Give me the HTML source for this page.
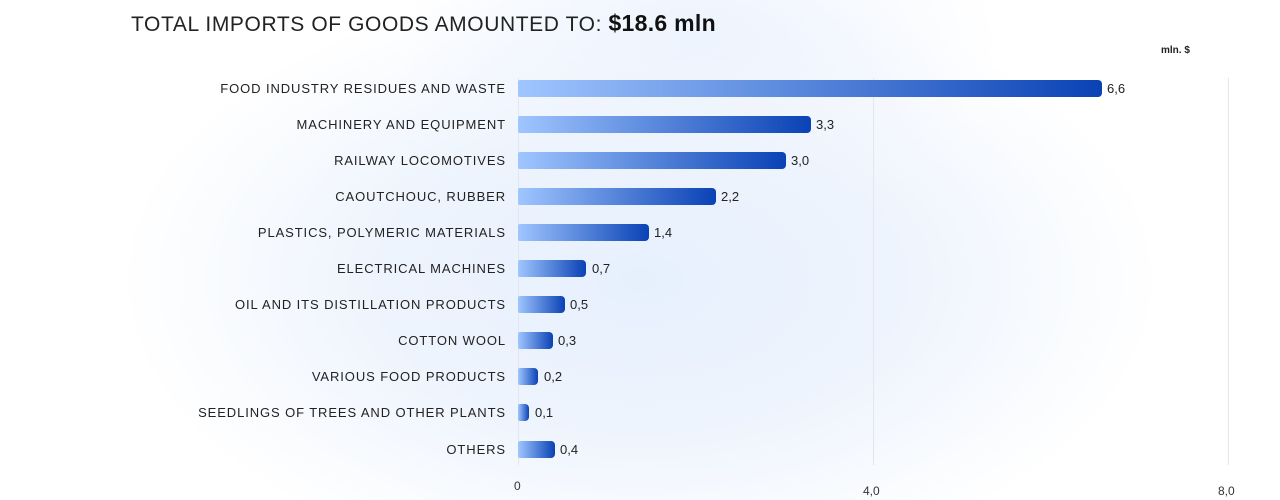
<!DOCTYPE html>
<html><head><style>
body{margin:0;width:1280px;height:500px;overflow:hidden;background:#fff;font-family:"Liberation Sans",sans-serif;}
.bg{position:absolute;left:0;top:0;width:1280px;height:500px;
background:radial-gradient(ellipse 520px 300px at 640px 280px,#e6f0fd 0%,#eef4fd 50%,rgba(255,255,255,0) 100%),
radial-gradient(ellipse 300px 160px at 700px 40px,#edf3fd 0%,rgba(255,255,255,0) 100%);}
.t{position:absolute;left:131px;top:10px;font-size:21px;color:#222;letter-spacing:0.6px}
.t b{font-size:23px;color:#111;letter-spacing:0.3px}
.u{position:absolute;left:1161px;top:45px;font-size:10px;font-weight:bold;color:#222}
.g{position:absolute;top:78px;height:387px;width:1px;background:#e3e6ec}
.l{position:absolute;right:774px;font-size:13px;color:#222;letter-spacing:0.9px;white-space:nowrap;height:17px;line-height:17px}
.b{position:absolute;left:518px;height:17px;border-radius:2px 4px 4px 2px;background:linear-gradient(90deg,#a0c6ff,#0a42b5)}
.v{position:absolute;font-size:13px;color:#222;height:17px;line-height:17px}
.x{position:absolute;font-size:12px;color:#333}
</style></head><body>
<div class="bg"></div>
<div class="t">TOTAL IMPORTS OF GOODS AMOUNTED TO: <b>$18.6 mln</b></div>
<div class="u">mln. $</div>
<div class="g" style="left:518px"></div>
<div class="g" style="left:873px"></div>
<div class="g" style="left:1228px"></div>
<div class="l" style="top:80px">FOOD INDUSTRY RESIDUES AND WASTE</div><div class="b" style="top:80px;width:584px"></div><div class="v" style="top:80px;left:1107px">6,6</div>
<div class="l" style="top:116px">MACHINERY AND EQUIPMENT</div><div class="b" style="top:116px;width:293px"></div><div class="v" style="top:116px;left:816px">3,3</div>
<div class="l" style="top:152px">RAILWAY LOCOMOTIVES</div><div class="b" style="top:152px;width:268px"></div><div class="v" style="top:152px;left:791px">3,0</div>
<div class="l" style="top:188px">CAOUTCHOUC, RUBBER</div><div class="b" style="top:188px;width:198px"></div><div class="v" style="top:188px;left:721px">2,2</div>
<div class="l" style="top:224px">PLASTICS, POLYMERIC MATERIALS</div><div class="b" style="top:224px;width:131px"></div><div class="v" style="top:224px;left:654px">1,4</div>
<div class="l" style="top:260px">ELECTRICAL MACHINES</div><div class="b" style="top:260px;width:68px"></div><div class="v" style="top:260px;left:592px">0,7</div>
<div class="l" style="top:296px">OIL AND ITS DISTILLATION PRODUCTS</div><div class="b" style="top:296px;width:47px"></div><div class="v" style="top:296px;left:570px">0,5</div>
<div class="l" style="top:332px">COTTON WOOL</div><div class="b" style="top:332px;width:35px"></div><div class="v" style="top:332px;left:558px">0,3</div>
<div class="l" style="top:368px">VARIOUS FOOD PRODUCTS</div><div class="b" style="top:368px;width:20px"></div><div class="v" style="top:368px;left:544px">0,2</div>
<div class="l" style="top:404px">SEEDLINGS OF TREES AND OTHER PLANTS</div><div class="b" style="top:404px;width:11px"></div><div class="v" style="top:404px;left:535px">0,1</div>
<div class="l" style="top:441px">OTHERS</div><div class="b" style="top:441px;width:37px"></div><div class="v" style="top:441px;left:560px">0,4</div>
<div class="x" style="left:514px;top:479px">0</div>
<div class="x" style="left:863px;top:484px">4,0</div>
<div class="x" style="left:1218px;top:484px">8,0</div>
</body></html>
